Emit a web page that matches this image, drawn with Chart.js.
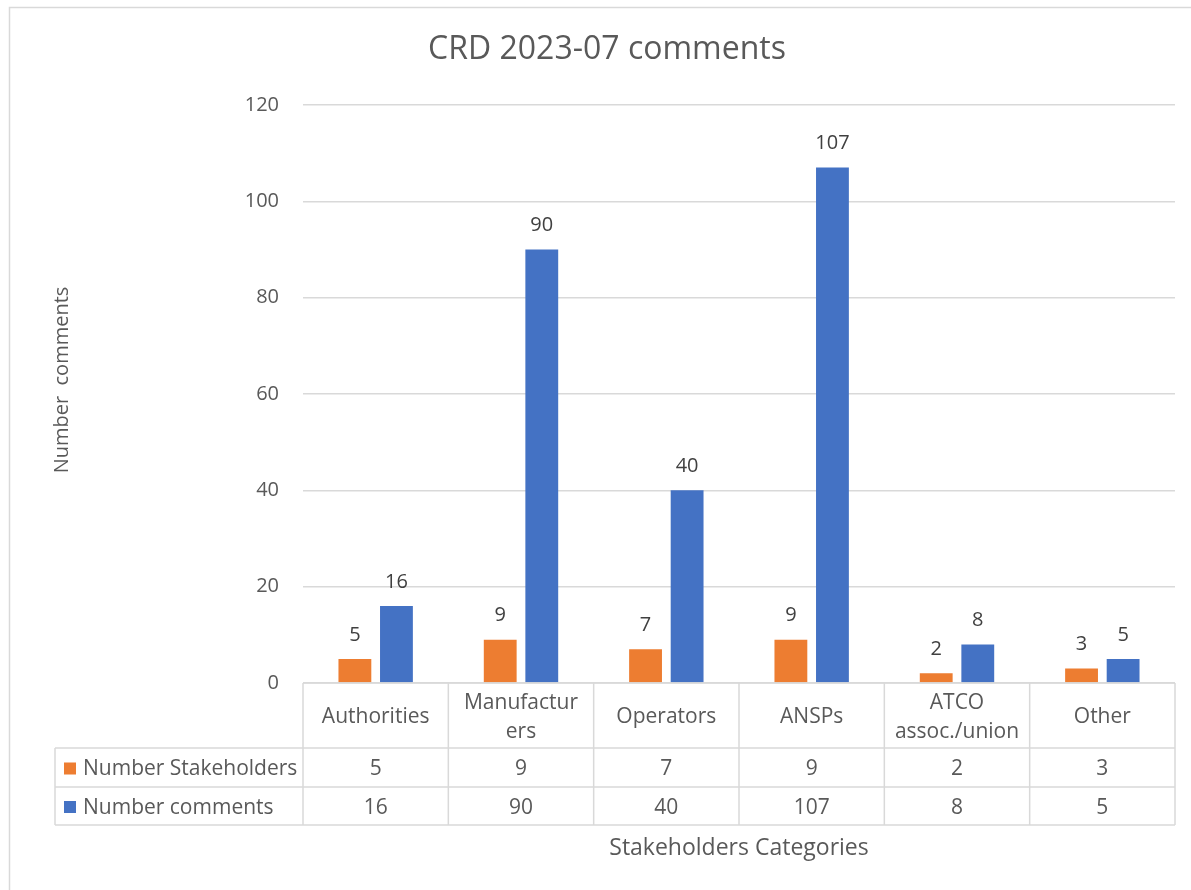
<!DOCTYPE html>
<html>
<head>
<meta charset="utf-8">
<script src="https://cdn.jsdelivr.net/npm/chart.js@4.4.1/dist/chart.umd.min.js"></script>
<style>
    html, body { margin: 0; padding: 0; background: #ffffff; }
    #wrap { position: relative; width: 1191px; height: 890px; }
</style>
</head>
<body>
<div id="wrap"><canvas id="chart" width="1191" height="890"></canvas></div>
<script>
(() => {
    'use strict';

    const chartTitle = 'CRD 2023-07 comments';
    const yAxisTitle = 'Number  comments';
    const xAxisTitle = 'Stakeholders Categories';
    const categories = ['Authorities', 'Manufacturers', 'Operators', 'ANSPs', 'ATCO assoc./union', 'Other'];
    const categoryLines = [['Authorities'], ['Manufactur', 'ers'], ['Operators'], ['ANSPs'], ['ATCO', 'assoc./union'], ['Other']];
    const stakeholders = [5, 9, 7, 9, 2, 3];
    const comments = [16, 90, 40, 107, 8, 5];
    const seriesNames = ['Number Stakeholders', 'Number comments'];
    const seriesColors = ['#ed7d31', '#4472c4'];
    const yTicks = [0, 20, 40, 60, 80, 100, 120];

    const FONT = '"Open Sans", sans-serif';
    const GRID = '#d9d9d9';
    const TEXT = '#595959';

    const decorations = {
        id: 'excelDecorations',
        beforeDraw(chart) {
            const ctx = chart.ctx;
            ctx.save();
            ctx.strokeStyle = GRID;
            ctx.lineWidth = 1.5;
            ctx.beginPath();
            ctx.moveTo(9.5, 1000);
            ctx.lineTo(9.5, 7.5);
            ctx.lineTo(1300, 7.5);
            ctx.stroke();
            ctx.restore();
        },
        afterDatasetsDraw(chart) {
            const ctx = chart.ctx;
            ctx.save();
            ctx.font = '20px ' + FONT;
            ctx.fillStyle = '#404040';
            ctx.textAlign = 'center';
            ctx.textBaseline = 'middle';
            chart.data.datasets.forEach((ds, di) => {
                chart.getDatasetMeta(di).data.forEach((bar, i) => {
                    ctx.fillText(String(ds.data[i]), bar.x, bar.y - 24);
                });
            });
            ctx.restore();
        },
        afterDraw(chart) {
            const ctx = chart.ctx;
            const area = chart.chartArea;
            const xs = chart.scales.x;
            const n = categories.length;
            const colW = (area.right - area.left) / n;
            const top = area.bottom;
            const rowY = [top, top + 65, top + 104, top + 142];
            const legendLeft = 55;

            ctx.save();
            ctx.strokeStyle = GRID;
            ctx.lineWidth = 1.5;
            ctx.beginPath();
            // header row top
            ctx.moveTo(area.left, rowY[0]);
            ctx.lineTo(area.right, rowY[0]);
            for (let r = 1; r < rowY.length; r++) {
                ctx.moveTo(legendLeft, rowY[r]);
                ctx.lineTo(area.right, rowY[r]);
            }
            ctx.moveTo(legendLeft, rowY[1]);
            ctx.lineTo(legendLeft, rowY[3]);
            for (let c = 0; c <= n; c++) {
                const x = area.left + c * colW;
                ctx.moveTo(x, rowY[0]);
                ctx.lineTo(x, rowY[3]);
            }
            ctx.stroke();

            ctx.fillStyle = TEXT;
            ctx.font = '21px ' + FONT;
            ctx.textAlign = 'center';
            ctx.textBaseline = 'middle';
            categoryLines.forEach((lines, i) => {
                const cx = xs.getPixelForValue(i);
                const mid = (rowY[0] + rowY[1]) / 2 + 2;
                const lh = 29;
                lines.forEach((line, k) => {
                    ctx.fillText(line, cx, mid + (k - (lines.length - 1) / 2) * lh);
                });
            });

            [stakeholders, comments].forEach((values, r) => {
                const mid = (rowY[r + 1] + rowY[r + 2]) / 2 + 1;
                values.forEach((v, i) => {
                    ctx.fillText(String(v), xs.getPixelForValue(i), mid + 1);
                });
                ctx.fillStyle = seriesColors[r];
                ctx.fillRect(legendLeft + 9, mid - 6, 12, 12);
                ctx.fillStyle = TEXT;
                ctx.textAlign = 'left';
                ctx.fillText(seriesNames[r], legendLeft + 28, mid + 1);
                ctx.textAlign = 'center';
            });

            ctx.font = '23px ' + FONT;
            ctx.fillText(xAxisTitle, (area.left + area.right) / 2, 848);

            ctx.font = '32px ' + FONT;
            ctx.fillText(chartTitle, 607, 50);

            ctx.translate(62, 380);
            ctx.rotate(-Math.PI / 2);
            ctx.font = '20px ' + FONT;
            ctx.fillText(yAxisTitle, 0, 0);
            ctx.restore();
        },
    };

    new Chart(document.getElementById('chart'), {
        type: 'bar',
        data: {
            labels: categories,
            datasets: [
                {
                    label: seriesNames[0],
                    data: stakeholders,
                    backgroundColor: seriesColors[0],
                    categoryPercentage: 0.572,
                    barPercentage: 0.79,
                },
                {
                    label: seriesNames[1],
                    data: comments,
                    backgroundColor: seriesColors[1],
                    categoryPercentage: 0.572,
                    barPercentage: 0.79,
                },
            ],
        },
        plugins: [decorations],
        options: {
            responsive: false,
            animation: false,
            layout: {
                padding: { left: 0, right: 16, top: 105, bottom: 207 },
            },
            scales: {
                x: {
                    display: false,
                },
                y: {
                    min: 0,
                    max: 120,
                    afterFit(scale) {
                        scale.width = 303;
                    },
                    afterBuildTicks(scale) {
                        scale.ticks = yTicks.map((v) => ({ value: v }));
                    },
                    border: { display: false },
                    grid: {
                        color: GRID,
                        lineWidth: 1.5,
                        drawTicks: false,
                    },
                    ticks: {
                        padding: 24,
                        color: TEXT,
                        font: { family: FONT, size: 20 },
                    },
                },
            },
            plugins: {
                legend: { display: false },
                title: { display: false },
                tooltip: { enabled: false },
            },
        },
    });
})();
</script>
</body>
</html>
